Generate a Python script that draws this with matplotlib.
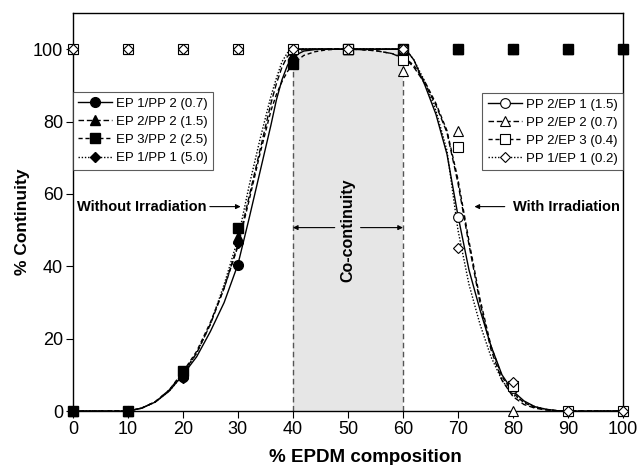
import numpy as np
import matplotlib
matplotlib.use('Agg')
import matplotlib.pyplot as plt
from matplotlib.lines import Line2D

plt.rcParams['font.family'] = ['Liberation Sans', 'DejaVu Sans']

# measured points (% EPDM composition vs % continuity)
comp = [0, 10, 20, 30, 40, 50, 60, 70, 80, 90, 100]

# without irradiation (filled markers)
ep1_pp2 = [0, 0, 9.5, 40.5, 97, 100, 100, 100, 100, 100, 100]
ep2_pp2 = [0, 0, 10.5, 48, 98, 100, 100, 100, 100, 100, 100]
ep3_pp2 = [0, 0, 11, 50.5, 96, 100, 100, 100, 100, 100, 100]
ep1_pp1 = [0, 0, 9, 46.5, 99, 100, 100, 100, 100, 100, 100]

# with irradiation (open markers)
pp2_ep1 = [100, 100, 100, 100, 100, 100, 100, 53.5, 6.5, 0, 0]
pp2_ep2 = [100, 100, 100, 100, 100, 100, 94, 77.5, 0, 0, 0]
pp2_ep3 = [100, 100, 100, 100, 100, 100, 97, 73, 7, 0, 0]
pp1_ep1 = [100, 100, 100, 100, 100, 100, 100, 45, 8, 0, 0]

# fitted curves
fit_x_up = [0, 10, 12.5, 15, 17.5, 20, 22.5, 25, 27.5, 30, 32, 34, 36, 37, 38, 39, 40, 42, 44, 46, 48, 50, 55, 60]
fit_ep1_pp2 = [0, 0, 0.8, 2.5, 5.5, 10, 15, 22, 30, 40.5, 53, 66, 79, 86, 91.5, 95.5, 98, 99.5, 99.9, 100, 100, 100, 100, 100]
fit_ep2_pp2 = [0, 0, 0.8, 2.6, 5.8, 10.5, 16, 24, 34, 46, 59, 72, 85, 90.5, 95, 98, 99.3, 99.9, 100, 100, 100, 100, 100, 100]
fit_ep3_pp2 = [0, 0, 0.8, 2.6, 5.8, 10.8, 16.5, 24.5, 34, 45.5, 58, 71, 83, 87.5, 91, 93.8, 96, 98.3, 99.3, 99.8, 100, 100, 100, 100]
fit_ep1_pp1 = [0, 0, 0.8, 2.5, 5.5, 10, 16, 24, 35, 47.5, 62, 75, 87, 92, 96.5, 99, 100, 100, 100, 100, 100, 100, 100, 100]

fit_x_down = [40, 45, 50, 52, 55, 58, 60, 61, 62, 64, 66, 68, 70, 72, 74, 76, 78, 80, 82, 84, 86, 88, 90, 95, 100]
fit_pp2_ep1 = [100, 100, 100, 100, 100, 100, 100, 99, 97, 90, 82, 71, 54, 39, 28, 18, 10, 5.5, 2.8, 1.2, 0.5, 0.1, 0, 0, 0]
fit_pp2_ep2 = [100, 100, 100, 99.9, 99.6, 98.8, 97.5, 96.5, 95, 90.5, 84.5, 77, 63, 46, 30, 17, 8.5, 4, 1.8, 0.8, 0.3, 0.1, 0, 0, 0]
fit_pp2_ep3 = [100, 100, 100, 99.9, 99.6, 98.8, 97.8, 96.8, 95.5, 91, 85, 77.5, 64, 47, 31, 18, 9.5, 5, 2.3, 1, 0.4, 0.1, 0, 0, 0]
fit_pp1_ep1 = [100, 100, 100, 100, 100, 100, 100, 99, 97, 91, 83, 72, 50, 35, 24, 15, 8.5, 4.5, 2.5, 1.2, 0.5, 0.1, 0, 0, 0]

labels_left = ['EP 1/PP 2 (0.7)', 'EP 2/PP 2 (1.5)', 'EP 3/PP 2 (2.5)', 'EP 1/PP 1 (5.0)']
labels_right = ['PP 2/EP 1 (1.5)', 'PP 2/EP 2 (0.7)', 'PP 2/EP 3 (0.4)', 'PP 1/EP 1 (0.2)']

styles = ['-', (0, (4, 2)), (0, (3, 2)), (0, (1, 1.3))]
marks = ['o', '^', 's', 'D']
msizes = [7, 7, 7, 5.5]

fig = plt.figure(figsize=(6.39, 4.65), dpi=100)
ax = fig.add_axes([0.114, 0.116, 0.861, 0.856])

ax.axvspan(40, 60, ymin=0, ymax=100 / 110, color='#e6e6e6', lw=0, zorder=0)
ax.plot([40, 40], [0, 96], color='#555555', ls=(0, (4, 2.5)), lw=1, zorder=1)
ax.plot([60, 60], [0, 93], color='#555555', ls=(0, (4, 2.5)), lw=1, zorder=1)

fits_up = [fit_ep1_pp2, fit_ep2_pp2, fit_ep3_pp2, fit_ep1_pp1]
fits_down = [fit_pp2_ep1, fit_pp2_ep2, fit_pp2_ep3, fit_pp1_ep1]
pts_filled = [ep1_pp2, ep2_pp2, ep3_pp2, ep1_pp1]
pts_open = [pp2_ep1, pp2_ep2, pp2_ep3, pp1_ep1]

for f, ls in zip(fits_up, styles):
    ax.plot(fit_x_up, f, color='black', ls=ls, lw=1, zorder=2)
for f, ls in zip(fits_down, styles):
    ax.plot(fit_x_down, f, color='black', ls=ls, lw=1, zorder=2)

for p, m, ms in zip(pts_filled, marks, msizes):
    ax.plot(comp, p, ls='none', marker=m, ms=ms, mfc='black', mec='black', clip_on=False, zorder=3)
for p, m, ms in zip(pts_open, marks, msizes):
    ax.plot(comp, p, ls='none', marker=m, ms=ms, mfc='white', mec='black', mew=0.8, clip_on=False, zorder=4)

h_left = [Line2D([], [], color='black', ls=ls, lw=1, marker=m, ms=ms, mfc='black', mec='black')
          for ls, m, ms in zip(styles, marks, msizes)]
h_right = [Line2D([], [], color='black', ls=ls, lw=1, marker=m, ms=ms, mfc='white', mec='black', mew=0.8)
           for ls, m, ms in zip(styles, marks, msizes)]

leg_kw = dict(fontsize=9.5, frameon=True, fancybox=False, borderaxespad=0, handlelength=2.6,
              handletextpad=0.3, labelspacing=0.45, borderpad=0.4)
leg1 = ax.legend(h_left, labels_left, loc='upper left', bbox_to_anchor=(0, 0.801), **leg_kw)
leg1.get_frame().set_edgecolor('#333333')
leg1.get_frame().set_linewidth(0.8)
ax.add_artist(leg1)
leg2 = ax.legend(h_right, labels_right, loc='upper right', bbox_to_anchor=(1, 0.799), **leg_kw)
leg2.get_frame().set_edgecolor('#333333')
leg2.get_frame().set_linewidth(0.8)

# annotations
ax.text(50, 50, 'Co-continuity', rotation=90, ha='center', va='center', fontsize=11.5, fontweight='bold')
arrow = dict(arrowstyle='-|>', color='black', lw=0.8, mutation_scale=7, shrinkA=0, shrinkB=0)
ax.annotate('', xy=(40, 50.7), xytext=(47.6, 50.7), arrowprops=arrow)
ax.annotate('', xy=(60, 50.7), xytext=(52.3, 50.7), arrowprops=arrow)

ax.text(0.7, 56.5, 'Without Irradiation', ha='left', va='center', fontsize=10.5, fontweight='bold')
ax.annotate('', xy=(30.5, 56.5), xytext=(24.9, 56.5), arrowprops=arrow)
ax.text(99.5, 56.5, 'With Irradiation', ha='right', va='center', fontsize=10.5, fontweight='bold')
ax.annotate('', xy=(73, 56.5), xytext=(78.5, 56.5), arrowprops=arrow)

ax.set_xlim(0, 100)
ax.set_ylim(0, 110)
ax.set_xticks(range(0, 101, 10))
ax.set_yticks(range(0, 101, 20))
ax.tick_params(axis='both', direction='out', length=5, width=0.8, labelsize=13, pad=2)
for s in ax.spines.values():
    s.set_linewidth(1)
ax.set_xlabel('% EPDM composition', fontsize=13.5, fontweight='bold', labelpad=4)
ax.xaxis.set_label_coords(0.531, -0.095)
ax.set_ylabel('% Continuity', fontsize=12.5, fontweight='bold')
ax.yaxis.set_label_coords(-0.077, 0.475)

fig.savefig('out.png', dpi=100)
